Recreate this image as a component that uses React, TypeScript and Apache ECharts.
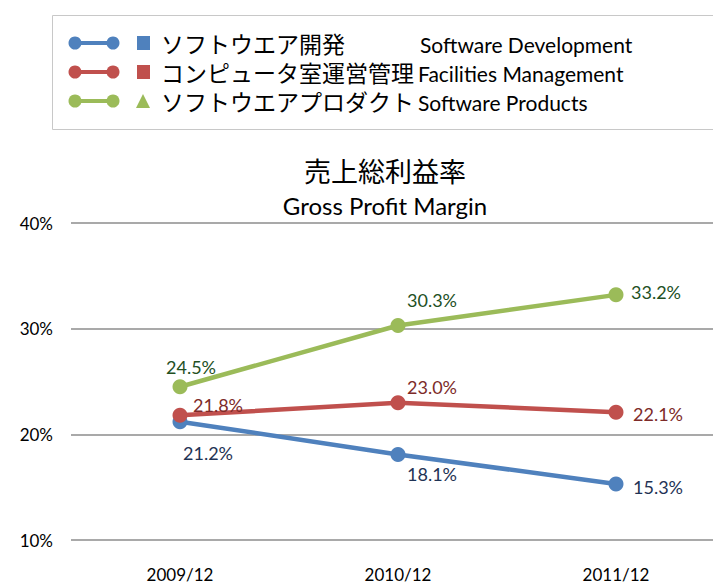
import React, { useEffect, useRef } from "react";
import * as echarts from "echarts";

const categories = ["2009/12", "2010/12", "2011/12"];
const seriesNamesJa = ["ソフトウエア開発", "コンピュータ室運営管理", "ソフトウエアプロダクト"];
const seriesNamesEn = ["Software Development", "Facilities Management", "Software Products"];
const softwareDevelopment = [21.2, 18.1, 15.3];
const facilitiesManagement = [21.8, 23.0, 22.1];
const softwareProducts = [24.5, 30.3, 33.2];
const yTicks = [10, 20, 30, 40];
const titleJa = "売上総利益率";
const titleEn = "Gross Profit Margin";

const seriesValues = [softwareDevelopment, facilitiesManagement, softwareProducts];
const lineColors = ["#4F81BD", "#C0504D", "#9BBB59"];
const labelColors = ["#1F3355", "#7D2B29", "#23501F"];
const labelOffsets = [
  [[28, 31], [34, 20], [42, 3]],
  [[38, -10], [34, -16], [42, 2]],
  [[11, -20], [34, -25], [40, -3]],
];

const LATIN = "Lato, 'Noto Sans', sans-serif";
const CJK = "'Noto Sans CJK JP', sans-serif";

export default function App() {
  const ref = useRef<HTMLDivElement>(null);
  useEffect(() => {
    if (!ref.current) return;
    const chart = echarts.init(ref.current, null, { renderer: "svg" });
    const legendGraphics: any[] = [
      {
        type: "rect",
        shape: { x: 52.5, y: 15.5, width: 700, height: 114 },
        style: { fill: "#fff", stroke: "#c8c8c8", lineWidth: 1 },
        z: 0,
      },
    ];
    seriesNamesJa.forEach((ja, i) => {
      const y = 43 + 29 * i;
      const c = lineColors[i];
      legendGraphics.push(
        { type: "line", shape: { x1: 72, y1: y, x2: 116, y2: y }, style: { stroke: c, lineWidth: 4 } },
        { type: "circle", shape: { cx: 75, cy: y, r: 6.5 }, style: { fill: c } },
        { type: "circle", shape: { cx: 113, cy: y, r: 6.5 }, style: { fill: c } }
      );
      if (i === 2) {
        legendGraphics.push({
          type: "polygon",
          shape: { points: [[143, y - 7], [136, y + 7], [150, y + 7]] },
          style: { fill: c },
        });
      } else {
        legendGraphics.push({ type: "rect", shape: { x: 137, y: y - 7, width: 13, height: 14 }, style: { fill: c } });
      }
      legendGraphics.push(
        {
          type: "text",
          x: 161,
          y,
          style: { text: ja, font: `23px ${CJK}`, fill: "#000", verticalAlign: "middle", textAlign: "left", lineHeight: 26 },
        },
        {
          type: "text",
          x: i === 0 ? 420 : 418,
          y: y + 1,
          style: { text: seriesNamesEn[i], font: `21px ${LATIN}`, fill: "#000", verticalAlign: "middle", textAlign: "left", lineHeight: 24 },
        }
      );
    });

    chart.setOption({
      animation: false,
      backgroundColor: "#fff",
      title: {
        text: titleJa,
        subtext: titleEn,
        left: 380,
        textAlign: "center",
        top: 152,
        itemGap: 10,
        textStyle: { fontFamily: CJK, fontSize: 27, fontWeight: "normal", color: "#000" },
        subtextStyle: { fontFamily: LATIN, fontSize: 24, color: "#000" },
      },
      legend: { show: false },
      grid: { left: 71, width: 654, top: 223, bottom: 44, outerBoundsMode: "none", containLabel: false },
      xAxis: {
        type: "category",
        data: categories,
        boundaryGap: true,
        axisLine: { show: false },
        axisTick: { show: false },
        axisLabel: { margin: 26, fontFamily: LATIN, fontSize: 17, color: "#000" },
      },
      yAxis: {
        type: "value",
        min: yTicks[0],
        max: yTicks[yTicks.length - 1],
        interval: 10,
        axisLine: { show: false },
        axisTick: { show: false },
        axisLabel: { margin: 18, formatter: "{value}%", fontFamily: LATIN, fontSize: 17, color: "#000" },
        splitLine: { lineStyle: { color: "#8c8c8c", width: 1.5 } },
      },
      graphic: legendGraphics,
      series: seriesValues.map((vals, s) => ({
        type: "line",
        name: seriesNamesJa[s],
        data: vals.map((v, i) => ({ value: v, label: { offset: labelOffsets[s][i] } })),
        symbol: "circle",
        symbolSize: 15,
        lineStyle: { color: lineColors[s], width: 4.5 },
        itemStyle: { color: lineColors[s] },
        label: {
          show: true,
          position: "inside",
          formatter: (p: any) => `${Number(p.value).toFixed(1)}%`,
          fontFamily: LATIN,
          fontSize: 18,
          color: labelColors[s],
        },
      })),
    });
    return () => chart.dispose();
  }, []);
  return (
    <div
      ref={ref}
      style={{ position: "absolute", left: 0, top: 0, width: 713, height: 584, overflow: "hidden" }}
    />
  );
}
